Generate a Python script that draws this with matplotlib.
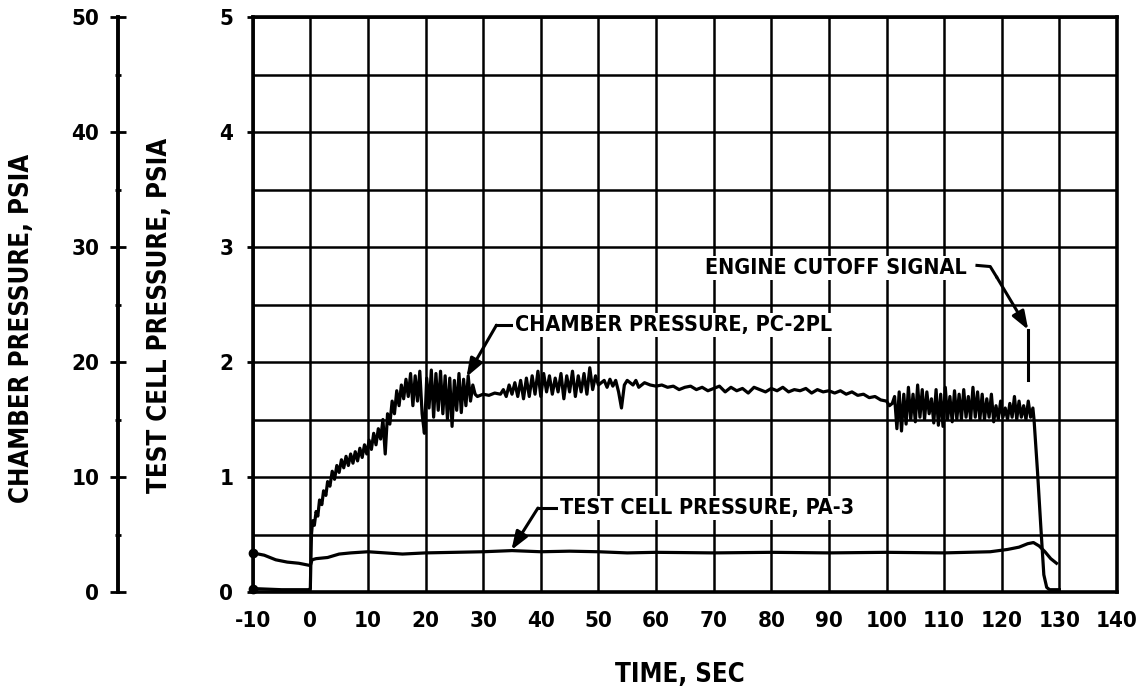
import matplotlib
matplotlib.use("Agg")
import matplotlib.pyplot as plt
from matplotlib.ticker import MultipleLocator

FONT = ['DejaVu Sans']
plt.rcParams['font.family'] = FONT

# ---------------- data ----------------
# chamber pressure trace, plotted on the 0-5 grid scale (x10 = psia)
chamber_t = [-10, -5, -0.2, 0.0, 0.2, 0.4, 0.7, 1.0, 1.3, 1.6, 2.0, 2.3, 2.7, 3.0, 3.4, 3.8,
             4.2, 4.6, 5.0, 5.4, 5.8, 6.2, 6.6, 7.0, 7.4, 7.8, 8.2, 8.6, 9.0, 9.4, 9.8,
             10.2, 10.6, 11.0, 11.4, 11.8, 12.2, 12.6, 13.0, 13.4, 13.8, 14.2, 14.6, 15.0,
             15.4, 15.8, 16.2, 16.6, 17.0, 17.4, 17.8, 18.2, 18.6, 19.0, 19.4, 19.8, 20.2,
             20.6, 21.0, 21.4, 21.8, 22.2, 22.6, 23.0, 23.4, 23.8, 24.2, 24.6, 25.0, 25.4,
             25.8, 26.2, 26.6, 27.0, 27.4, 27.8, 28.2, 28.6, 29.0, 30, 31, 32, 33, 33.5,
             34.0, 34.5, 35, 35.5, 36, 36.5, 37, 37.5, 38, 38.5, 39, 39.5, 40, 40.5, 41,
             41.5, 42, 42.5, 43, 43.5, 44, 44.5, 45, 45.5, 46, 46.5, 47, 47.5, 48, 48.5,
             49, 49.5, 50, 51, 51.5, 52, 52.5, 53, 53.5, 54, 54.5, 55, 56, 56.5, 57, 58,
             59, 60, 61, 62, 63, 64, 65, 66, 67, 68, 69, 70, 71, 72, 73, 74, 75, 76, 77,
             78, 79, 80, 81, 82, 83, 84, 85, 86, 87, 88, 89, 90, 91, 92, 93, 94, 95, 96,
             97, 98, 99, 100, 100.5, 101, 101.4, 101.8, 102.2, 102.6, 103.0, 103.4, 103.8,
             104.2, 104.6, 105.0, 105.4, 105.8, 106.2, 106.6, 107.0, 107.4, 107.8, 108.2,
             108.6, 109.0, 109.4, 109.8, 110.2, 110.6, 111.0, 111.4, 111.8, 112.2, 112.6,
             113.0, 113.4, 113.8, 114.2, 114.6, 115.0, 115.4, 115.8, 116.2, 116.6, 117.0,
             117.4, 117.8, 118.2, 118.6, 119.0, 119.4, 119.8, 120.2, 120.6, 121.0, 121.4,
             121.8, 122.2, 122.6, 123.0, 123.4, 123.8, 124.2, 124.6, 125.0, 125.4, 125.6,
             126.2, 126.8, 127.3, 127.8, 128.3, 130.0]
chamber_p = [0.03, 0.02, 0.02, 0.03, 0.50, 0.62, 0.58, 0.70, 0.66, 0.80, 0.76, 0.88, 0.84, 0.96,
             0.92, 1.05, 0.98, 1.10, 1.04, 1.15, 1.08, 1.18, 1.10, 1.20, 1.12, 1.22, 1.14,
             1.25, 1.17, 1.28, 1.20, 1.32, 1.24, 1.38, 1.28, 1.42, 1.33, 1.50, 1.20, 1.55,
             1.46, 1.66, 1.55, 1.75, 1.62, 1.80, 1.68, 1.85, 1.70, 1.90, 1.62, 1.88, 1.66,
             1.92, 1.55, 1.38, 1.86, 1.60, 1.93, 1.52, 1.90, 1.58, 1.92, 1.55, 1.88, 1.50,
             1.86, 1.44, 1.84, 1.58, 1.90, 1.56, 1.85, 1.62, 1.88, 1.66, 1.80, 1.72, 1.70,
             1.72, 1.71, 1.73, 1.72, 1.76, 1.70, 1.80, 1.72, 1.82, 1.70, 1.84, 1.68, 1.86,
             1.70, 1.88, 1.72, 1.92, 1.70, 1.90, 1.74, 1.88, 1.72, 1.86, 1.74, 1.90, 1.68,
             1.88, 1.74, 1.92, 1.70, 1.88, 1.74, 1.90, 1.72, 1.95, 1.76, 1.88, 1.80, 1.84,
             1.78, 1.85, 1.79, 1.84, 1.74, 1.60, 1.80, 1.84, 1.80, 1.84, 1.78, 1.82, 1.80,
             1.79, 1.80, 1.78, 1.79, 1.76, 1.78, 1.79, 1.76, 1.78, 1.75, 1.77, 1.79, 1.74,
             1.78, 1.75, 1.77, 1.73, 1.78, 1.76, 1.74, 1.77, 1.75, 1.78, 1.74, 1.76, 1.75,
             1.77, 1.73, 1.76, 1.74, 1.75, 1.73, 1.75, 1.72, 1.74, 1.71, 1.72, 1.69, 1.70,
             1.67, 1.66, 1.62, 1.64, 1.70, 1.42, 1.74, 1.40, 1.72, 1.46, 1.78, 1.50, 1.72,
             1.48, 1.80, 1.52, 1.76, 1.50, 1.74, 1.55, 1.68, 1.47, 1.76, 1.45, 1.72, 1.44,
             1.78, 1.50, 1.70, 1.48, 1.75, 1.50, 1.72, 1.50, 1.76, 1.52, 1.70, 1.50, 1.78,
             1.52, 1.74, 1.50, 1.72, 1.50, 1.68, 1.52, 1.72, 1.48, 1.62, 1.50, 1.66, 1.52,
             1.60, 1.50, 1.64, 1.52, 1.70, 1.50, 1.66, 1.52, 1.62, 1.50, 1.66, 1.52, 1.60,
             1.50, 1.05, 0.55, 0.15, 0.04, 0.02, 0.02]

# test cell pressure trace (psia, 0-5 scale)
cell_t = [-10, -8, -6, -4, -2, 0, 0.3, 1, 3, 5, 7, 10, 13, 16, 20, 25, 30, 35, 40, 45, 50,
          55, 60, 70, 80, 90, 100, 110, 118, 121, 123, 124.5, 125.5, 126.5, 127.5, 128.5,
          129.5]
cell_p = [0.34, 0.32, 0.28, 0.26, 0.25, 0.23, 0.28, 0.29, 0.30, 0.33, 0.34, 0.35, 0.34,
          0.33, 0.34, 0.345, 0.35, 0.36, 0.35, 0.355, 0.35, 0.34, 0.345, 0.34, 0.345, 0.34,
          0.345, 0.34, 0.35, 0.37, 0.39, 0.42, 0.43, 0.40, 0.35, 0.29, 0.25]

x_ticks = list(range(-10, 141, 10))
y_ticks = [0, 1, 2, 3, 4, 5]
chamber_ticks = [0, 10, 20, 30, 40, 50]

cutoff_t = 124.6
cutoff_span = [1.84, 2.28]

# ---------------- figure ----------------
W, H = 1148, 693
fig = plt.figure(figsize=(W / 100, H / 100), dpi=100)
L, R, B, T = 252.7 / W, 1117 / W, 1 - 592 / H, 1 - 17 / H
ax = fig.add_axes([L, B, R - L, T - B])

ax.set_xlim(-10, 140)
ax.set_ylim(0, 5)
ax.yaxis.set_minor_locator(MultipleLocator(0.5))
ax.set_xticks(x_ticks)
ax.set_xticklabels([str(v) for v in x_ticks])
ax.set_yticks(y_ticks)
ax.set_yticklabels([str(v) for v in y_ticks])
ax.grid(True, which='both', color='black', linewidth=1.8, zorder=0)
ax.set_axisbelow(True)
for s in ax.spines.values():
    s.set_linewidth(2.6)
ax.tick_params(axis='x', length=0, pad=14, labelsize=16)
ax.tick_params(axis='y', which='major', length=4, width=2, pad=10, labelsize=16)
ax.tick_params(axis='y', which='minor', length=0)
for lab in ax.get_xticklabels() + ax.get_yticklabels():
    lab.set_fontweight('bold')
    lab.set_fontstretch('condensed')

ax.plot(chamber_t, chamber_p, color='black', linewidth=2.3, zorder=3)
ax.plot(cell_t, cell_p, color='black', linewidth=2.3, zorder=3)
ax.plot([chamber_t[0], cell_t[0]], [chamber_p[0], cell_p[0]], 'o', color='black',
        markersize=6, zorder=4, clip_on=False)
ax.plot([cutoff_t, cutoff_t], cutoff_span, color='black', linewidth=2.2, zorder=3)

tfont = dict(fontsize=15.5, fontweight='bold', fontstretch='condensed',
             bbox=dict(facecolor='white', edgecolor='none', pad=1.5), zorder=5)
ax.text(35.5, 2.32, 'CHAMBER PRESSURE, PC-2PL', ha='left', va='center', **tfont)
ax.text(43.3, 0.73, 'TEST CELL PRESSURE, PA-3', ha='left', va='center', **tfont)
ax.text(114.0, 2.82, 'ENGINE CUTOFF SIGNAL', ha='right', va='center', **tfont)

aprops = dict(arrowstyle='-|>,head_length=1.1,head_width=0.4', color='black', lw=2.2,
              shrinkA=0, shrinkB=0)
# chamber arrow
ax.plot([32.3, 35.0], [2.32, 2.32], color='black', lw=2.2, zorder=4)
ax.annotate('', xy=(27.1, 1.87), xytext=(32.3, 2.32), arrowprops=aprops, zorder=4)
# test cell arrow
ax.plot([39.5, 43.0], [0.73, 0.73], color='black', lw=2.2, zorder=4)
ax.annotate('', xy=(34.9, 0.365), xytext=(39.5, 0.73), arrowprops=aprops, zorder=4)
# cutoff arrow
ax.plot([115.7, 118.0, 119.1], [2.84, 2.83, 2.74], color='black', lw=2.2, zorder=4)
ax.annotate('', xy=(cutoff_t, 2.28), xytext=(119.1, 2.74), arrowprops=aprops, zorder=4)

# chamber pressure scale (0-50 psia)
ax2 = fig.add_axes([118 / W, B, 0.0001, T - B])
ax2.set_ylim(0, 50)
ax2.set_xticks([])
ax2.set_yticks(chamber_ticks)
ax2.set_yticklabels([str(v) for v in chamber_ticks])
ax2.yaxis.set_minor_locator(MultipleLocator(5))
for k in ['top', 'bottom', 'right']:
    ax2.spines[k].set_visible(False)
ax2.spines['left'].set_linewidth(2.8)
ax2.patch.set_visible(False)
ax2.tick_params(axis='y', which='major', direction='inout', length=11, width=2, pad=8,
                labelsize=16)
ax2.tick_params(axis='y', which='minor', direction='inout', length=4, width=2)
for lab in ax2.get_yticklabels():
    lab.set_fontweight('bold')
    lab.set_fontstretch('condensed')

lab_kw = dict(rotation=90, ha='center', va='center', fontsize=18.5, fontweight='bold',
              fontstretch='condensed')
fig.text(22 / W, 1 - 328 / H, 'CHAMBER PRESSURE, PSIA', **lab_kw)
fig.text(160 / W, 1 - 315 / H, 'TEST CELL PRESSURE, PSIA', **lab_kw)
fig.text(680 / W, 1 - 675 / H, 'TIME, SEC', ha='center', va='center', fontsize=18.5,
         fontweight='bold', fontstretch='condensed')

fig.savefig('out.png', dpi=100)
